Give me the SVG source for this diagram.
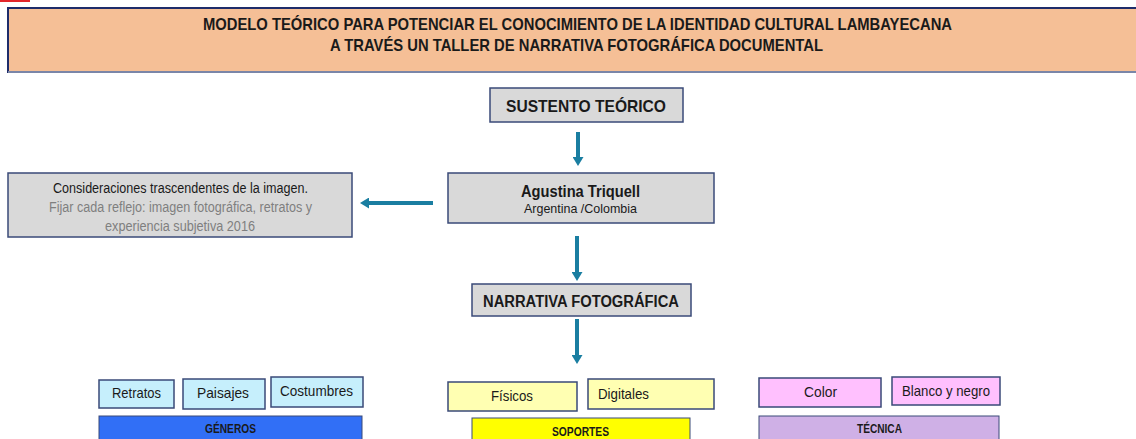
<svg xmlns="http://www.w3.org/2000/svg" width="1136" height="439" viewBox="0 0 1136 439">
<style>
text{font-family:"Liberation Sans",Arial,sans-serif;fill:#1a1a1a}
.b{font-weight:bold}
.node{fill:#d9d9d9;stroke:#3a4a78;stroke-width:1.5}
.gen{fill:#c6effc;stroke:#3a4a78;stroke-width:1.5}
.sop{fill:#ffffb2;stroke:#3a4a78;stroke-width:1.5}
.tec{fill:#ffc0fe;stroke:#3a4a78;stroke-width:1.5}
.arr{stroke:#1a7ea1;stroke-width:4;fill:none}
.gray{fill:#7f7f7f}
</style>
<defs>
<marker id="ah" markerUnits="userSpaceOnUse" markerWidth="9" markerHeight="11" viewBox="0 0 9 11" refX="0" refY="5.5" orient="auto">
<path d="M0,0 L9,5.5 L0,11 z" fill="#1a7ea1"/>
</marker>
</defs>
<rect x="0" y="0" width="1136" height="439" fill="#ffffff"/>
<rect x="0" y="0" width="30" height="2" fill="#e3262b"/>
<g id="title">
<rect x="8" y="8" width="1140" height="64" fill="#f5bf96" stroke="#1e2c6a" stroke-width="2"/>
<line x1="8" y1="72" x2="1136" y2="72" stroke="#7a86a8" stroke-width="2"/>
<text class="b" x="203" y="30" font-size="17" textLength="749" lengthAdjust="spacingAndGlyphs">MODELO TEÓRICO PARA POTENCIAR  EL CONOCIMIENTO DE LA IDENTIDAD CULTURAL LAMBAYECANA</text>
<text class="b" x="330" y="51" font-size="17" textLength="493" lengthAdjust="spacingAndGlyphs">A TRAVÉS UN TALLER DE NARRATIVA FOTOGRÁFICA DOCUMENTAL</text>
</g>
<g id="sustento">
<rect class="node" x="490" y="88" width="193" height="34"/>
<text class="b" x="506" y="112" font-size="17" textLength="160" lengthAdjust="spacingAndGlyphs">SUSTENTO TEÓRICO</text>
</g>
<g id="triquell">
<rect class="node" x="448" y="173" width="266" height="50"/>
<text class="b" x="521" y="197" font-size="16" textLength="119" lengthAdjust="spacingAndGlyphs">Agustina Triquell</text>
<text x="524" y="213" font-size="13" textLength="113" lengthAdjust="spacingAndGlyphs">Argentina /Colombia</text>
</g>
<g id="consideraciones">
<rect class="node" x="8" y="173" width="344" height="64"/>
<text x="53" y="193" font-size="14" textLength="255" lengthAdjust="spacingAndGlyphs">Consideraciones trascendentes de la imagen.</text>
<text class="gray" x="49" y="212" font-size="14" textLength="263" lengthAdjust="spacingAndGlyphs">Fijar cada reflejo: imagen fotográfica, retratos y</text>
<text class="gray" x="105" y="231" font-size="14" textLength="150" lengthAdjust="spacingAndGlyphs">experiencia subjetiva 2016</text>
</g>
<g id="narrativa">
<rect class="node" x="472" y="284" width="219" height="32"/>
<text class="b" x="483" y="307" font-size="16" textLength="196" lengthAdjust="spacingAndGlyphs">NARRATIVA FOTOGRÁFICA</text>
</g>
<g id="generos">
<rect class="gen" x="99" y="380" width="75" height="28"/>
<text x="112" y="398" font-size="15" textLength="49" lengthAdjust="spacingAndGlyphs">Retratos</text>
<rect class="gen" x="183" y="379" width="82" height="30"/>
<text x="197" y="398" font-size="15" textLength="52" lengthAdjust="spacingAndGlyphs">Paisajes</text>
<rect class="gen" x="271" y="377" width="92" height="30"/>
<text x="280" y="396" font-size="15" textLength="73" lengthAdjust="spacingAndGlyphs">Costumbres</text>
<rect x="99" y="416" width="263" height="30" fill="#316ff6" stroke="#3a4a78" stroke-width="1"/>
<text class="b" x="205" y="433" font-size="13" textLength="51" lengthAdjust="spacingAndGlyphs">GÉNEROS</text>
</g>
<g id="soportes">
<rect class="sop" x="448" y="382" width="129" height="29"/>
<text x="491" y="401" font-size="15" textLength="42" lengthAdjust="spacingAndGlyphs">Físicos</text>
<rect class="sop" x="588" y="379" width="126" height="30"/>
<text x="598" y="399" font-size="15" textLength="51" lengthAdjust="spacingAndGlyphs">Digitales</text>
<rect x="472" y="418" width="218" height="30" fill="#ffff00" stroke="#3a4a78" stroke-width="1"/>
<text class="b" x="552" y="436" font-size="13" textLength="57" lengthAdjust="spacingAndGlyphs">SOPORTES</text>
</g>
<g id="tecnica">
<rect class="tec" x="759" y="378" width="122" height="29"/>
<text x="804" y="397" font-size="15" textLength="33" lengthAdjust="spacingAndGlyphs">Color</text>
<rect class="tec" x="892" y="377" width="108" height="28"/>
<text x="902" y="396" font-size="15" textLength="88" lengthAdjust="spacingAndGlyphs">Blanco y negro</text>
<rect x="759" y="416" width="240" height="30" fill="#cfb0e6" stroke="#3a4a78" stroke-width="1"/>
<text class="b" x="857" y="433" font-size="13" textLength="45" lengthAdjust="spacingAndGlyphs">TÉCNICA</text>
</g>
<g id="connectors">
<line class="arr" x1="578" y1="132" x2="578" y2="157" marker-end="url(#ah)"/>
<line class="arr" x1="433" y1="203" x2="369" y2="203" marker-end="url(#ah)"/>
<line class="arr" x1="577" y1="236" x2="577" y2="272" marker-end="url(#ah)"/>
<line class="arr" x1="577" y1="319" x2="577" y2="355" marker-end="url(#ah)"/>
</g>
</svg>
